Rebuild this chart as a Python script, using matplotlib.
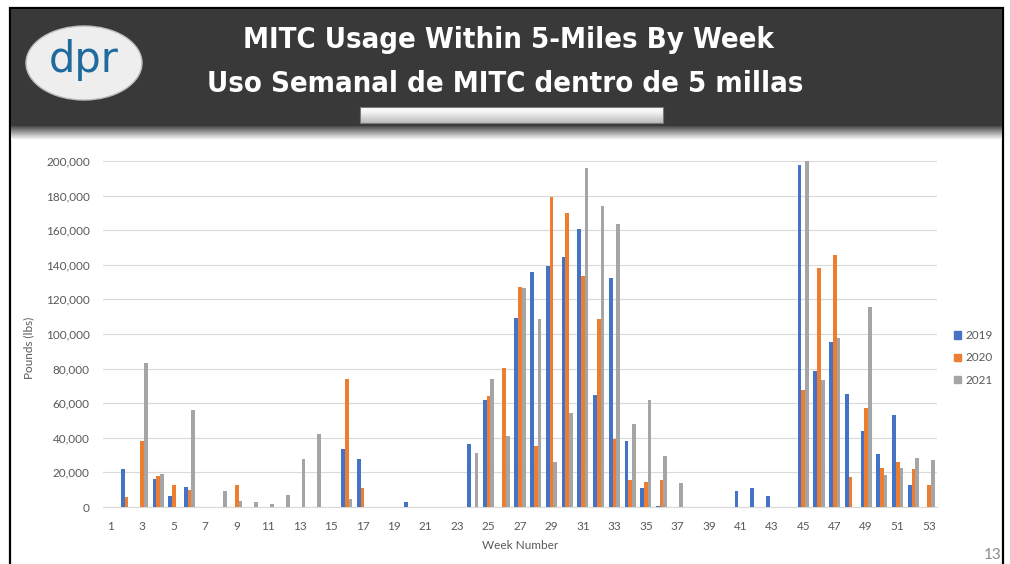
import numpy as np
import matplotlib
matplotlib.use("Agg")
from matplotlib import pyplot as plt
from matplotlib.patches import Rectangle, Ellipse, Patch
from matplotlib.colors import LinearSegmentedColormap

# weekly pounds, weeks 1..53
weeks = list(range(1, 54))
y2019 = [0, 22000, 0, 16000, 6200, 11800, 0, 0, 0, 0,
         0, 0, 0, 0, 0, 33800, 27600, 0, 0, 2900,
         0, 0, 0, 36600, 61700, 0, 109500, 135600, 139400, 144600,
         160500, 64600, 132500, 38400, 11200, 400, 0, 0, 0, 0,
         9100, 10800, 6600, 0, 197700, 78500, 95100, 65200, 44000, 30900,
         53400, 12500, 0]
y2020 = [0, 6000, 38000, 18000, 12700, 9800, 0, 0, 12700, 0,
         0, 0, 0, 0, 0, 73700, 11200, 0, 0, 0,
         0, 0, 0, 0, 64200, 80400, 127300, 35100, 179400, 169700,
         133500, 108600, 39500, 15400, 14500, 15800, 0, 0, 0, 0,
         0, 0, 0, 0, 67500, 137900, 145400, 17400, 57300, 22600,
         26000, 21800, 12500]
y2021 = [0, 0, 83000, 19300, 0, 56000, 0, 9300, 3500, 2900,
         1500, 7100, 27600, 42400, 0, 4800, 0, 0, 0, 0,
         0, 0, 0, 31000, 73700, 41000, 126500, 108800, 26200, 54400,
         196100, 174000, 163500, 47800, 61900, 29500, 14100, 0, 0, 0,
         0, 0, 0, 0, 200000, 73300, 97800, 0, 115700, 18700,
         22800, 28200, 27000]
series = [("2019", y2019, "#4472C4"), ("2020", y2020, "#ED7D31"), ("2021", y2021, "#A5A5A5")]
title1 = "MITC Usage Within 5-Miles By Week"
title2 = "Uso Semanal de MITC dentro de 5 millas"

W, H = 1010, 564
fig = plt.figure(figsize=(W/100, H/100), dpi=100)

# background / slide decorations in pixel coords
bg = fig.add_axes([0, 0, 1, 1])
bg.set_xlim(0, W)
bg.set_ylim(H, 0)
bg.axis("off")
bg.add_patch(Rectangle((10, 8), 993, 600, facecolor="white", edgecolor="black", lw=1.6))
bg.add_patch(Rectangle((11, 9), 991, 118, facecolor="#3a3939", edgecolor="none"))
shade = LinearSegmentedColormap.from_list("shade", ["#4a4a4a", "#a8a8a8", "#ffffff"])
grad = np.linspace(0, 1, 40).reshape(-1, 1)
bg.imshow(grad, cmap=shade, extent=(11, 1002, 140, 126), aspect="auto", zorder=1)
# logo
bg.add_patch(Ellipse((84, 63), 116, 74, facecolor="#eeeeee", edgecolor="#bbbbbb", lw=1, zorder=2))
bg.text(84, 60, "dpr", color="#1f6b9e", fontsize=30, ha="center", va="center",
        family="DejaVu Sans", zorder=3)
tfont = dict(color="white", fontsize=21, fontweight="bold", ha="center", va="center",
             family="DejaVu Sans", fontstretch="condensed", zorder=3)
bg.text(508, 40, title1, **tfont)
bg.text(505, 84, title2, **tfont)
# silver bar under the title
silver = LinearSegmentedColormap.from_list("silver", ["#ffffff", "#f2f2f2", "#d6d6d6", "#bdbdbd"])
bgrad = np.linspace(0, 1, 20).reshape(-1, 1)
bg.imshow(bgrad, cmap=silver, extent=(360, 663, 123, 107), aspect="auto", zorder=3)
bg.add_patch(Rectangle((360, 107), 303, 16, facecolor="none", edgecolor="#7a7a7a", lw=0.8, zorder=4))
bg.text(993, 555, "13", color="#8c8c8c", fontsize=11, ha="center", va="center", family="Lato")

# chart
ax = fig.add_axes([103/W, 1-507/H, (937-103)/W, (507-161)/H])
x = np.array(weeks)
bw = 0.235
for i, (name, vals, col) in enumerate(series):
    ax.bar(x + (i-1)*bw, vals, width=bw, color=col, label=name, zorder=3)

ax.set_xlim(0.5, 53.5)
ax.set_ylim(0, 200000)
ax.set_yticks(np.arange(0, 200001, 20000))
ax.set_yticklabels(["{:,}".format(v) for v in range(0, 200001, 20000)])
ax.set_xticks(weeks[::2])
ax.grid(axis="y", color="#d9d9d9", lw=0.8, zorder=0)
for s in ["top", "right", "left"]:
    ax.spines[s].set_visible(False)
ax.spines["bottom"].set_color("#d9d9d9")
ax.tick_params(length=0, labelsize=8.5, labelcolor="#595959")
ax.tick_params(axis="y", pad=9.5)
ax.tick_params(axis="x", pad=10)
for t in ax.get_xticklabels() + ax.get_yticklabels():
    t.set_family("Lato")
ax.set_xlabel("Week Number", fontsize=8.5, color="#595959", family="Lato", labelpad=6)
ax.set_ylabel("Pounds (lbs)", fontsize=8.5, color="#595959", family="Lato")
ax.yaxis.set_label_coords(-69/834, 0.46)

handles = [Patch(color=c) for _, _, c in series]
fig.legend(handles, [n for n, _, _ in series], loc="center left",
           bbox_to_anchor=(943/W, 1-358/H), frameon=False,
           handlelength=0.6, handleheight=0.6, handletextpad=0.4, labelspacing=0.95,
           labelcolor="#595959", prop={"family": "Lato", "size": 8.5})

fig.savefig("out.png", dpi=100)
